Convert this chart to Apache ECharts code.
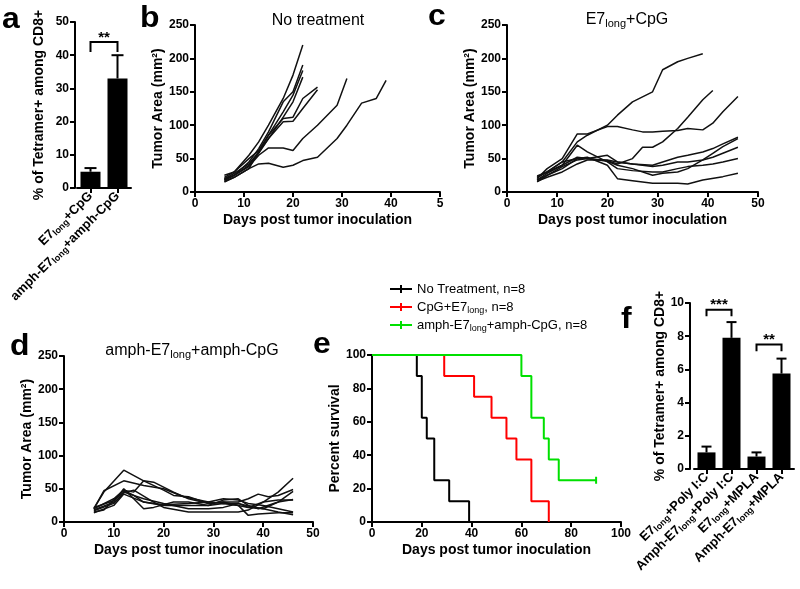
<!DOCTYPE html>
<html><head><meta charset="utf-8">
<script src="https://cdn.jsdelivr.net/npm/echarts@6/dist/echarts.min.js"></script>
<style>html,body{margin:0;padding:0;background:#fff}#c{width:800px;height:589px}</style>
</head><body><div id="c"></div>
<script>
// ---------- DATA ----------
const aCategories = ['E7long+CpG', 'amph-E7long+amph-CpG'];
const aMeans = [4.9, 33.0];
const aErrTop = [6.0, 40.0];
const aSignif = [[0, 1, 44, 41, '**']];

const bTumor = [
  [[6,22],[8,30],[11,55],[13,75],[15,100],[18,140],[20,175],[22,220]],
  [[6,18],[8,25],[11,45],[13,65],[15,90],[18,135],[20,150],[22,190]],
  [[6,20],[8,28],[11,42],[13,60],[15,85],[18,120],[20,145],[22,182]],
  [[6,15],[8,22],[11,35],[13,60],[15,80],[18,112],[20,135],[22,172]],
  [[6,25],[8,30],[11,50],[13,62],[15,85],[18,110],[20,112],[22,140],[25,157]],
  [[6,20],[8,25],[11,40],[13,58],[15,80],[18,105],[20,106],[22,125],[25,153]],
  [[6,18],[8,25],[11,38],[13,55],[15,66],[18,66],[20,62],[22,80],[25,100],[29,130],[31,170]],
  [[6,16],[8,22],[11,35],[13,42],[15,43],[18,37],[20,40],[22,47],[25,52],[29,80],[31,100],[34,133],[37,140],[39,167]]
];
const cTumor = [
  [[6,22],[8,30],[11,45],[14,75],[16,85],[20,100],[22,115],[25,135],[29,150],[31,183],[34,195],[36,200],[39,207]],
  [[6,20],[8,35],[11,50],[14,87],[16,87],[20,98],[22,98],[25,93],[27,90],[29,90],[31,91],[34,92],[36,95],[39,93],[41,103],[43,120],[46,143]],
  [[6,18],[8,28],[11,40],[14,52],[16,50],[20,47],[22,42],[25,50],[27,67],[29,67],[31,75],[34,95],[36,112],[39,138],[41,152]],
  [[6,18],[8,25],[11,35],[14,50],[16,52],[20,40],[22,20],[25,17],[29,13],[31,13],[34,13],[36,12],[39,18],[43,23],[46,28]],
  [[6,15],[8,25],[11,38],[14,48],[16,50],[20,55],[22,45],[25,42],[29,40],[31,45],[34,52],[36,55],[39,60],[41,65],[43,72],[46,82]],
  [[6,22],[8,30],[11,45],[14,50],[16,50],[20,46],[22,40],[25,35],[29,25],[31,28],[34,30],[36,35],[39,48],[41,58],[43,68],[46,80]],
  [[6,16],[8,22],[11,30],[14,42],[16,48],[20,48],[22,45],[25,42],[29,38],[31,40],[34,45],[36,45],[39,48],[41,52],[43,58],[46,67]],
  [[6,24],[8,30],[11,40],[14,70],[16,60],[20,45],[22,35],[25,32],[29,30],[31,30],[34,35],[36,38],[39,40],[41,42],[43,45],[46,50]]
];
const dTumor = [
  [[6,20],[8,45],[12,78],[16,62],[20,48],[22,40],[25,38],[29,28],[32,30],[35,25],[37,22],[40,30],[43,45],[46,66]],
  [[6,20],[8,47],[12,62],[16,55],[20,50],[24,38],[29,30],[32,35],[35,33],[37,28],[40,25],[43,20],[46,15]],
  [[6,15],[8,18],[12,48],[14,45],[16,62],[18,60],[22,45],[25,35],[29,28],[32,30],[35,30],[37,35],[39,42],[41,38],[43,40],[46,49]],
  [[6,18],[10,30],[12,50],[14,35],[16,20],[18,22],[22,30],[25,30],[29,25],[32,28],[35,25],[37,10],[39,12],[43,14],[46,14]],
  [[6,20],[10,35],[12,48],[14,40],[16,30],[20,25],[25,25],[29,25],[32,33],[35,35],[37,25],[39,20],[43,30],[46,34]],
  [[6,22],[10,32],[12,45],[16,35],[20,28],[25,20],[29,20],[32,22],[35,28],[37,24],[40,20],[43,30],[46,46]],
  [[6,17],[10,28],[12,44],[14,48],[18,30],[20,22],[25,15],[29,15],[32,15],[35,15],[37,18],[40,30],[43,33],[46,33]],
  [[6,14],[10,25],[12,42],[16,30],[20,26],[25,28],[29,30],[32,28],[35,28],[37,22],[40,20],[43,15],[46,11]]
];
const eNames = ['No Treatment, n=8', 'CpG+E7long, n=8', 'amph-E7long+amph-CpG, n=8'];
const eColors = ['#000000', '#ff0000', '#00e000'];
const eNoTreat = [[0,100],[18,87.5],[20,62.5],[22,50],[25,25],[31,12.5],[39,0]];
const eCpG = [[0,100],[29,87.5],[41,75],[48,62.5],[54,50],[58,37.5],[64,12.5],[71,0]];
const eAmph = [[0,100],[60,87.5],[64,62.5],[69,50],[71,37.5],[75,25],[90,25]];

const fCategories = ['E7long+Poly I:C', 'Amph-E7long+Poly I:C', 'E7long+MPLA', 'Amph-E7long+MPLA'];
const fMeans = [1.0, 7.9, 0.75, 5.75];
const fErrTop = [1.35, 8.85, 1.0, 6.65];
const fSignif = [[0, 1, 9.6, 9.2, '***'], [2, 3, 7.5, 7.1, '**']];

// ---------- STYLE ----------
const FONT = "'Liberation Sans', Arial, sans-serif";
const tickLab = {fontFamily: FONT, fontWeight: 'bold', fontSize: 12, color: '#000', margin: 6};
const nameStyle = {fontFamily: FONT, fontWeight: 'bold', fontSize: 14, color: '#000'};
const sub = s => s.replace('E7long', 'E7{s|long}');
function axisBase(gi, extra) {
  return Object.assign({
    gridIndex: gi,
    axisLine: {show: true, onZero: false, lineStyle: {color: '#000', width: 2}},
    axisTick: {show: true, length: 5, lineStyle: {color: '#000', width: 2}},
    splitLine: {show: false},
    axisLabel: Object.assign({}, tickLab),
    nameTextStyle: nameStyle,
    nameLocation: 'middle'
  }, extra);
}
function valX(gi, max, interval, fmt) {
  return axisBase(gi, {type: 'value', min: 0, max: max, interval: interval, name: 'Days post tumor inoculation', nameGap: 21,
    axisLabel: Object.assign({}, tickLab, fmt ? {formatter: fmt} : {})});
}
function valY(gi, max, interval, name, gap, off) {
  return axisBase(gi, {type: 'value', min: 0, max: max, interval: interval, name: name, nameGap: gap, offset: off || 0});
}
function catX(gi, cats, fs, sfs) {
  return axisBase(gi, {type: 'category', data: cats,
    axisTick: {show: true, length: 5, alignWithLabel: true, interval: 0, lineStyle: {color: '#000', width: 2}},
    axisLabel: Object.assign({}, tickLab, {fontSize: fs, rotate: 45, interval: 0, margin: 6,
      formatter: v => sub(v),
      rich: {s: {fontFamily: FONT, fontWeight: 'bold', fontSize: sfs, color: '#000', verticalAlign: 'bottom', padding: [6, 0, 0, 0]}}})});
}

const grids = [
  {left: 77, top: 22, width: 54, height: 166},
  {left: 195, top: 25, width: 245, height: 167},
  {left: 507, top: 25, width: 251, height: 167},
  {left: 64, top: 356, width: 249, height: 166},
  {left: 372, top: 355, width: 249, height: 167},
  {left: 694, top: 303, width: 100, height: 166}
].map(g => Object.assign({outerBoundsMode: 'none', containLabel: false}, g));

const xAxes = [
  catX(0, aCategories, 13, 9),
  valX(1, 50, 10, v => v === 50 ? '5' : String(v)),
  valX(2, 50, 10),
  valX(3, 50, 10),
  valX(4, 100, 20),
  catX(5, fCategories, 13, 9)
];
const yAxes = [
  valY(0, 50, 10, '% of Tetramer+ among CD8+', 29, 2),
  valY(1, 250, 50, 'Tumor Area (mm²)', 28),
  valY(2, 250, 50, 'Tumor Area (mm²)', 28),
  valY(3, 250, 50, 'Tumor Area (mm²)', 27),
  valY(4, 100, 20, 'Percent survival', 28),
  valY(5, 10, 2, '% of Tetramer+ among CD8+', 18, 4)
];

const series = [];
function tumorLines(arr, gi) {
  arr.forEach(d => series.push({type: 'line', xAxisIndex: gi, yAxisIndex: gi, data: d, symbol: 'none',
    lineStyle: {color: '#111', width: 1.5}, silent: true, animation: false, z: 3}));
}
tumorLines(bTumor, 1); tumorLines(cTumor, 2); tumorLines(dTumor, 3);

function barSet(gi, means, errs, sig, barW, capW) {
  series.push({type: 'bar', xAxisIndex: gi, yAxisIndex: gi, data: means, barWidth: barW,
    itemStyle: {color: '#000'}, animation: false});
  series.push({type: 'custom', xAxisIndex: gi, yAxisIndex: gi, animation: false, z: 5,
    data: means.map((m, i) => [i, m, errs[i]]),
    renderItem: (p, api) => {
      const a = api.coord([api.value(0), api.value(1)]);
      const b = api.coord([api.value(0), api.value(2)]);
      return {type: 'group', children: [
        {type: 'line', shape: {x1: a[0], y1: a[1], x2: b[0], y2: b[1]}, style: {stroke: '#000', lineWidth: 2}},
        {type: 'line', shape: {x1: b[0] - capW / 2, y1: b[1], x2: b[0] + capW / 2, y2: b[1]}, style: {stroke: '#000', lineWidth: 2}}
      ]};
    }});
  series.push({type: 'custom', xAxisIndex: gi, yAxisIndex: gi, animation: false, z: 5,
    data: sig.map(s => [s[0], s[1], s[2], s[3]]),
    renderItem: (p, api) => {
      const s = sig[p.dataIndex];
      const l = api.coord([s[0], s[2]]), r = api.coord([s[1], s[2]]);
      const lb = api.coord([s[0], s[3]]), rb = api.coord([s[1], s[3]]);
      return {type: 'group', children: [
        {type: 'polyline', shape: {points: [[lb[0], lb[1]], [l[0], l[1]], [r[0], r[1]], [rb[0], rb[1]]]}, style: {stroke: '#000', fill: null, lineWidth: 2}},
        {type: 'text', style: {text: s[4], x: (l[0] + r[0]) / 2, y: l[1] + 3, align: 'center', verticalAlign: 'bottom',
          font: 'bold 15px ' + FONT, fill: '#000'}}
      ]};
    }});
}
barSet(0, aMeans, aErrTop, aSignif, 20, 12);
barSet(5, fMeans, fErrTop, fSignif, 18, 10);

[eNoTreat, eCpG, eAmph].forEach((d, i) => {
  const data = d.map(p => ({value: p}));
  if (i === 2) { data[data.length - 1].symbol = 'rect'; data[data.length - 1].symbolSize = [2, 7]; }
  series.push({type: 'line', name: eNames[i], xAxisIndex: 4, yAxisIndex: 4, step: 'end', data: data,
    symbol: 'none', showSymbol: true, color: eColors[i], itemStyle: {color: eColors[i]},
    lineStyle: {color: eColors[i], width: 2}, animation: false, z: 3 + i});
});

function letter(t, x, y) {
  return {type: 'text', x: x, y: y, scaleX: 1.1,
    style: {font: 'bold 29px ' + FONT, fill: '#000', text: t, verticalAlign: 'bottom'}};
}
const titleRich = {s: {fontFamily: FONT, fontSize: 11, fill: '#000', verticalAlign: 'bottom', padding: [7, 0, 0, 0]}};
function title(t, x, y) {
  return {type: 'text', x: x, y: y, style: {text: sub(t), fontFamily: FONT, fontSize: 16, fill: '#000',
    align: 'center', verticalAlign: 'bottom', rich: titleRich}};
}
const graphics = [
  letter('a', 2, 34),
  letter('b', 140, 33),
  letter('c', 428, 31),
  letter('d', 10, 361),
  letter('e', 313, 359),
  letter('f', 621, 334),
  title('No treatment', 318, 29),
  title('E7long+CpG', 627, 29),
  title('amph-E7long+amph-CpG', 192, 360)
];

const option = {
  backgroundColor: '#fff',
  animation: false,
  grid: grids, xAxis: xAxes, yAxis: yAxes, series: series,
  legend: {
    data: eNames, orient: 'vertical', left: 385, top: 276, itemGap: 2, itemWidth: 22, itemHeight: 8,
    icon: 'path://M0,3H22V5H0Z M10,0H12V8H10Z',
    selectedMode: false,
    formatter: n => sub(n),
    textStyle: {fontFamily: FONT, fontSize: 13, color: '#000', lineHeight: 16,
      rich: {s: {fontFamily: FONT, fontSize: 9, color: '#000', verticalAlign: 'bottom', padding: [6, 0, 0, 0]}}}
  },
  graphic: graphics
};
const chart = echarts.init(document.getElementById('c'), null, {renderer: 'canvas'});
chart.setOption(option);
</script>
</body></html>
